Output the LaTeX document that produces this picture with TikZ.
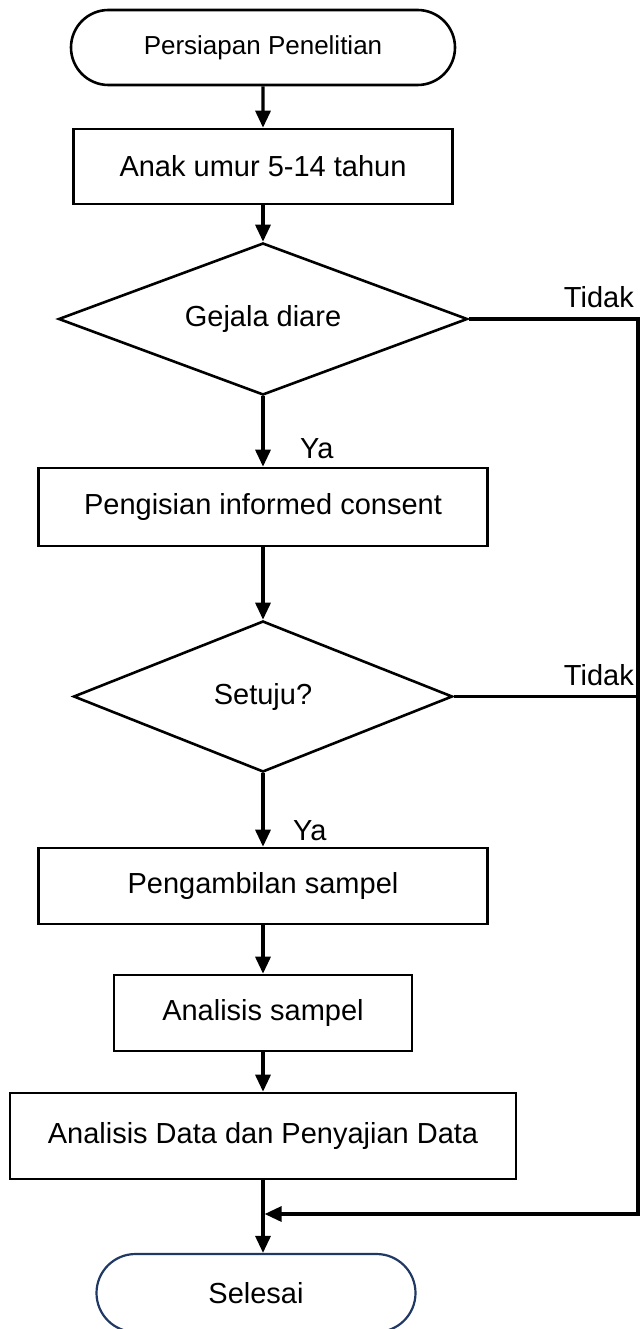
\documentclass[tikz,border=0pt]{standalone}
\usepackage{fontspec}
\setmainfont{Liberation Sans}
\usetikzlibrary{positioning,shapes.geometric,shapes.misc,arrows.meta}
\definecolor{navy}{RGB}{31,56,100}
\tikzset{
  % --- flowchart blocks -------------------------------------------------------
  base/.style={draw=black,line width=2.6pt,inner sep=0pt,align=center,
               font=\fontsize{29}{35}\selectfont},
  term/.style={base,rounded rectangle},            % start / end
  proc/.style={base,rectangle},                    % process step
  dec/.style={base,diamond,aspect=2.7},            % yes/no question
  % --- connectors -------------------------------------------------------------
  link/.style={line width=3.2pt,black},
  flow/.style={link,-{Triangle[length=17pt,width=15pt]}},
  lbl/.style={font=\fontsize{29}{35}\selectfont,inner sep=0pt},
}

\begin{document}
\begin{tikzpicture}[x=1pt, y=-1pt]
  \useasboundingbox (0,0) rectangle (640,1329);

  \node[term,minimum width=384pt,minimum height=75pt,
        font=\fontsize{26}{31}\selectfont] (start) at (263,47.5) {Persiapan Penelitian};
  \node[proc,minimum width=379pt,minimum height=75pt] (anak) at (263,166.5) {Anak umur 5-14 tahun};
  \node[dec,minimum width=409pt,minimum height=152pt] (gejala) at (263,319) {Gejala diare};
  \node[proc,minimum width=449pt,minimum height=78pt] (consent) at (263,507) {Pengisian informed consent};
  \node[dec,minimum width=379pt,minimum height=151pt] (setuju) at (263,696.5) {Setuju?};
  \node[proc,minimum width=449pt,minimum height=76pt] (ambil) at (263,886) {Pengambilan sampel};
  \node[proc,minimum width=298pt,minimum height=76pt] (analisis) at (263,1013) {Analisis sampel};
  \node[proc,minimum width=506pt,minimum height=86pt] (data) at (263,1136) {Analisis Data dan Penyajian Data};
  \node[term,draw=navy,line width=2.2pt,minimum width=319pt,minimum height=78pt] (selesai) at (256,1293) {Selesai};

  \coordinate (rail) at (638,0);
  \coordinate (join) at (263,1214);

  \draw[flow] (start) -- (anak);
  \draw[flow] (anak) -- (gejala);
  \draw[flow] (gejala) -- (consent);
  \draw[flow] (consent) -- (setuju);
  \draw[flow] (setuju) -- (ambil);
  \draw[flow] (ambil) -- (analisis);
  \draw[flow] (analisis) -- (data);
  \draw[flow] (data.south) -- (data.south |- selesai.north);
  \draw[flow,shorten >=1.6pt] (gejala.east) -- (gejala.east -| rail) |- (join);
  \draw[link] (setuju.east) -- (setuju.east -| rail);

  \node[lbl,anchor=base east] (tidak1) at (634,307) {Tidak};
  \node[lbl,anchor=base east] (tidak2) at (634,685) {Tidak};
  \node[lbl,anchor=base west] (ya1) at (300,458) {Ya};
  \node[lbl,anchor=base west] (ya2) at (293,840) {Ya};
\end{tikzpicture}
\end{document}
